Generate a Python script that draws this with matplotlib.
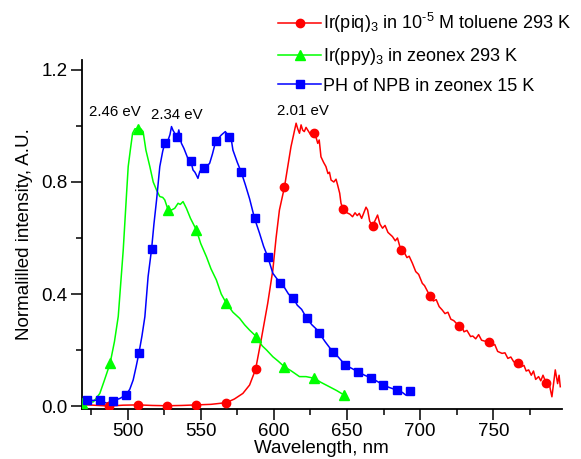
import numpy as np
import matplotlib
matplotlib.use("Agg")
import matplotlib.pyplot as plt
from matplotlib.ticker import MultipleLocator, FormatStrFormatter

plt.rcParams['font.family'] = ['Liberation Sans', 'DejaVu Sans']
plt.rcParams['mathtext.default'] = 'regular'

# ----------------------------------------------------------------------------
# Ir(piq)3 in 1e-5 M toluene, 293 K  (wavelength nm, normalised intensity)
piq_curve = [
    (469, 0.005), (487.5, 0.0), (497, 0.003), (507.2, 0.004), (517, 0.002),
    (527, 0.001), (537, 0.002), (547, 0.004), (557, 0.006), (567.5, 0.012),
    (573, 0.025), (578.8, 0.045), (583.4, 0.075), (587.5, 0.131), (591.3, 0.236),
    (595.8, 0.367), (599.3, 0.486), (601.5, 0.60), (603.8, 0.70), (605.5, 0.74),
    (607.2, 0.781), (609.5, 0.855), (611.7, 0.926), (613.5, 0.97), (615.2, 1.01),
    (616.3, 0.99), (617.5, 0.974), (618.6, 1.004), (619.7, 0.985), (620.8, 0.98),
    (622, 0.995), (623.1, 0.986), (625, 0.97), (627.7, 0.976), (628.8, 0.96),
    (630, 0.938), (631, 0.95), (632.2, 0.89), (634, 0.87), (635.6, 0.855),
    (637, 0.83), (638, 0.835), (639.1, 0.807), (641, 0.80), (642.5, 0.81),
    (643.6, 0.789), (645, 0.76), (645.9, 0.724), (647.5, 0.702), (650, 0.69),
    (652, 0.685), (653.8, 0.676), (655.5, 0.69), (657, 0.68), (658.4, 0.688),
    (660, 0.67), (661.5, 0.69), (663, 0.71), (664.1, 0.70), (665.5, 0.66),
    (667.5, 0.643), (669, 0.66), (670.9, 0.682), (672.5, 0.65), (674.3, 0.635),
    (676, 0.645), (678, 0.62), (681.1, 0.605), (683, 0.59), (684.5, 0.60),
    (686.8, 0.557), (689, 0.55), (691, 0.53), (692.5, 0.535), (694.7, 0.51),
    (697, 0.48), (699, 0.47), (701.5, 0.438), (703, 0.43), (705, 0.41),
    (706.7, 0.393), (709, 0.375), (711, 0.38), (713, 0.355), (715.1, 0.343),
    (717, 0.33), (719, 0.335), (721, 0.31), (723, 0.305), (726.5, 0.286),
    (728, 0.29), (730, 0.265), (732, 0.27), (734.5, 0.248), (736, 0.25),
    (738, 0.24), (740, 0.255), (742, 0.235), (744, 0.232), (746.9, 0.23),
    (749, 0.215), (751, 0.22), (753, 0.195), (756, 0.188), (758, 0.19),
    (760, 0.17), (762, 0.175), (764, 0.158), (766.9, 0.152), (769, 0.14),
    (771, 0.145), (772.5, 0.125), (774.2, 0.129), (776, 0.11), (777.5, 0.125),
    (779, 0.095), (781, 0.105), (782.5, 0.09), (784, 0.11), (786.3, 0.081),
    (788, 0.09), (789, 0.06), (790.1, 0.033), (791, 0.07), (792.4, 0.129),
    (794, 0.08), (795, 0.11), (795.8, 0.069),
]
piq_marks = [
    (487.5, 0.0), (507.2, 0.004), (527, 0.001), (547, 0.004), (567.5, 0.012),
    (587.5, 0.131), (607.2, 0.781), (627.7, 0.976), (647.5, 0.702), (667.5, 0.643),
    (686.8, 0.557), (706.7, 0.393), (726.5, 0.286), (746.9, 0.23), (766.9, 0.152),
    (786.3, 0.081),
]

# Ir(ppy)3 in zeonex, 293 K
ppy_curve = [
    (469, 0.01), (476.6, 0.015), (481, 0.045), (484, 0.09), (488, 0.152),
    (491, 0.23), (493.6, 0.32), (497, 0.557), (499.3, 0.76), (500.4, 0.855),
    (502, 0.92), (503.4, 0.974), (505, 0.99), (507.2, 0.99), (509, 0.99),
    (510.6, 0.98), (512.5, 0.914), (515.2, 0.855), (517.5, 0.80), (519.8, 0.771),
    (522, 0.748), (524, 0.745), (525.4, 0.736), (527.7, 0.70), (530, 0.70),
    (532.2, 0.706), (534.5, 0.724), (536, 0.72), (537.9, 0.73), (540.2, 0.706),
    (543, 0.67), (547, 0.629), (550, 0.58), (553.9, 0.533), (557, 0.49),
    (560.7, 0.45), (564, 0.40), (567.5, 0.367), (572, 0.335), (576.6, 0.313),
    (580, 0.29), (583.4, 0.271), (588, 0.248), (592, 0.215), (595, 0.20),
    (599.3, 0.176), (603, 0.16), (607.2, 0.14), (612, 0.125), (617.5, 0.105),
    (622, 0.105), (627.7, 0.099), (632, 0.085), (637.9, 0.069), (643, 0.055),
    (648.1, 0.039),
]
ppy_marks = [
    (469, 0.01), (488, 0.152), (507.2, 0.99), (527.7, 0.70), (547, 0.629),
    (567.5, 0.367), (588, 0.248), (607.2, 0.14), (627.7, 0.099), (648.1, 0.039),
]

# phosphorescence of NPB in zeonex, 15 K
npb_curve = [
    (468.6, 0.02), (472, 0.021), (476, 0.02), (481, 0.021), (485.7, 0.01),
    (489.8, 0.018), (494.7, 0.027), (498.8, 0.039), (501.5, 0.06), (503.8, 0.093),
    (505.8, 0.14), (507.7, 0.188), (509.8, 0.25), (511.8, 0.319), (514, 0.462),
    (516.4, 0.561), (518, 0.65), (519.8, 0.736), (522, 0.855), (524, 0.91),
    (525.4, 0.938), (527.7, 0.95), (529, 0.97), (530, 0.998), (531, 0.985),
    (532.2, 0.974), (533.8, 0.96), (535, 0.986), (536.8, 0.938), (538.5, 0.92),
    (540, 0.90), (541.5, 0.88), (543.2, 0.875), (544.7, 0.843), (546, 0.835),
    (547, 0.825), (548.1, 0.813), (549.3, 0.837), (550.5, 0.845), (552, 0.851),
    (554, 0.855), (556.1, 0.867), (558, 0.90), (560.2, 0.945), (562, 0.955),
    (564.1, 0.968), (566.8, 0.98), (569.3, 0.962), (570.5, 0.965), (572, 0.914),
    (575, 0.87), (577.7, 0.835), (580.5, 0.79), (583.4, 0.74), (586.8, 0.67),
    (590.2, 0.617), (593, 0.57), (595.8, 0.533), (599.3, 0.474), (602, 0.455),
    (604.3, 0.44), (607, 0.425), (610, 0.40), (613.4, 0.385), (616, 0.36),
    (619, 0.345), (622.5, 0.313), (626, 0.29), (629, 0.275), (631.1, 0.26),
    (635, 0.23), (640.2, 0.194), (644, 0.175), (648.9, 0.146), (653, 0.135),
    (657.3, 0.123), (662, 0.11), (666.3, 0.101), (670, 0.09), (674.9, 0.075),
    (679, 0.066), (684, 0.057), (688, 0.048), (690.2, 0.039), (692.9, 0.054),
]
npb_marks = [
    (472, 0.021), (481, 0.021), (489.8, 0.018), (498.8, 0.039), (507.7, 0.188),
    (516.4, 0.561), (525.4, 0.938), (533.8, 0.96), (543.2, 0.875), (552, 0.851),
    (560.2, 0.945), (569.3, 0.962), (577.7, 0.835), (586.8, 0.67), (595.8, 0.533),
    (604.3, 0.44), (613.4, 0.385), (622.5, 0.313), (631.1, 0.26), (640.2, 0.194),
    (648.9, 0.146), (657.3, 0.123), (666.3, 0.101), (674.9, 0.075), (684, 0.057),
    (692.9, 0.054),
]

# peak energies written over the curves
peak_labels = ["2.46 eV", "2.34 eV", "2.01 eV"]
peak_pos = [(491.3, 1.051), (533.8, 1.039), (619.7, 1.055)]

series = [
    ("Ir(piq)$_3$ in 10$^{\u20105}$ M toluene 293 K", piq_curve, piq_marks, "#ff0000", "o", 6.0),
    ("Ir(ppy)$_3$ in zeonex 293 K", ppy_curve, ppy_marks, "#00ff00", "^", 6.5),
    ("PH of NPB in zeonex 15 K", npb_curve, npb_marks, "#0000ff", "s", 5.2),
]

# ----------------------------------------------------------------------------
fig = plt.figure(figsize=(5.81, 4.59), dpi=100)
ax = fig.add_axes([0.1406, 0.1089, 0.8262, 0.7604])

for label, curve, marks, color, marker, ms in series:
    cx, cy = np.array(curve).T
    mx, my = np.array(marks).T
    ax.plot(cx, cy, color=color, lw=1.1, zorder=2)
    ax.plot(mx, my, ls="none", marker=marker, ms=ms, color=color, zorder=3)
    # proxy entry for legend: line + marker
    ax.plot([], [], color=color, lw=1.1, marker=marker, ms=ms, label=label)

for txt, (px, py) in zip(peak_labels, peak_pos):
    ax.text(px, py, txt, fontsize=10.8, ha="center", va="center")

ax.set_xlim(468.6, 796.8)
ax.set_ylim(-0.0107, 1.2357)
ax.xaxis.set_major_locator(MultipleLocator(50))
ax.xaxis.set_minor_locator(MultipleLocator(25))
ax.yaxis.set_major_locator(MultipleLocator(0.4))
ax.yaxis.set_minor_locator(MultipleLocator(0.2))
ax.yaxis.set_major_formatter(FormatStrFormatter("%.1f"))

for s in ["top", "right"]:
    ax.spines[s].set_visible(False)
for s in ["left", "bottom"]:
    ax.spines[s].set_linewidth(1.3)

ax.tick_params(which="major", direction="out", length=8, width=1.1, labelsize=13.5, pad=2)
ax.tick_params(which="minor", direction="out", length=4, width=1.1)

ax.set_xlabel("Wavelength, nm", fontsize=13.5, labelpad=0)
ax.set_ylabel("Normalilled intensity, A.U.", fontsize=13.5, labelpad=6)

fig.legend(loc="upper left", bbox_to_anchor=(278 / 581, 1 - 11 / 459),
           frameon=False, fontsize=13, handlelength=2.4, handletextpad=0.1,
           borderpad=0, borderaxespad=0, labelspacing=0.6)

fig.savefig("out.png", dpi=100)
